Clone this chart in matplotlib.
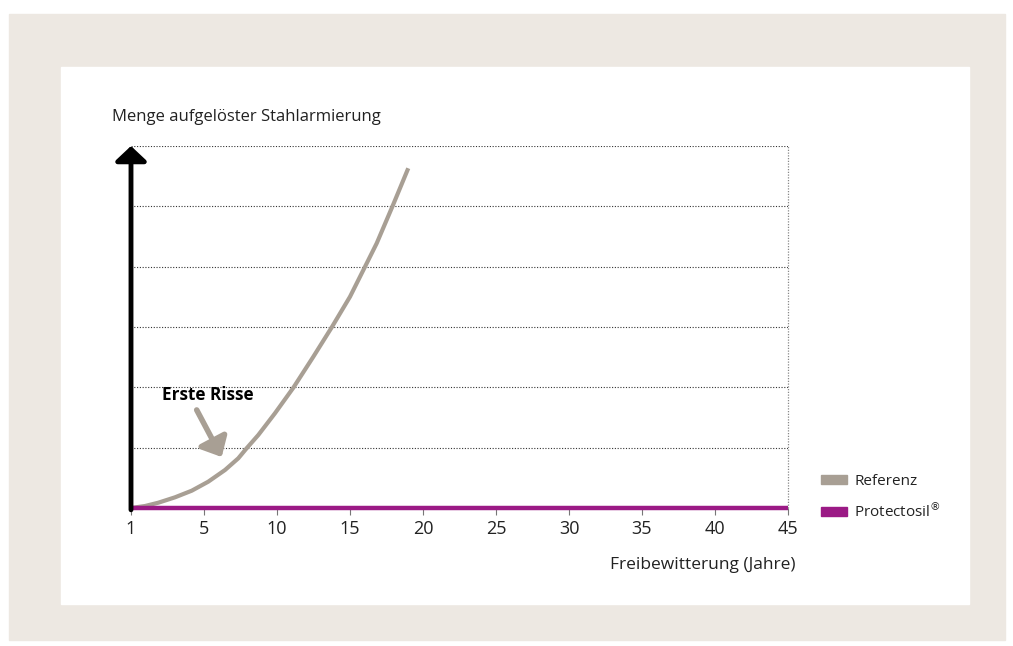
import numpy as np
import matplotlib.pyplot as plt
from matplotlib.patches import Rectangle, Patch

# x axis categories (equally spaced on the chart)
tick_years = [1, 5, 10, 15, 20, 25, 30, 35, 40, 45]

# Referenz curve (years, amount in grid units)
ref_years = [1, 1.77, 2.5, 3.41, 4.33, 5.29, 6.44, 7.35, 7.92, 8.72, 9.86,
             11.12, 12.49, 13.75, 15.0, 16.03, 16.83, 17.92, 18.99]
ref_values = [0, 0.033, 0.088, 0.177, 0.287, 0.436, 0.63, 0.824, 0.99, 1.21, 1.57,
              1.994, 2.508, 2.995, 3.502, 4.0, 4.388, 5.006, 5.631]

# Protectosil stays at zero for the whole period
prot_years = [1, 45]
prot_values = [0, 0]

legend_labels = ["Referenz", "Protectosil$^{\u00ae}$"]
ref_color = "#a89f94"
prot_color = "#9b1a85"
text_color = "#222222"


def main():
    plt.rcParams["font.family"] = ["Open Sans", "DejaVu Sans"]

    fig = plt.figure(figsize=(10.13, 6.46), dpi=100)
    W, H = 1013, 646

    # beige frame and white panel
    fig.patches.append(Rectangle((9 / W, 1 - 640 / H), 996 / W, 626 / H,
                                 transform=fig.transFigure, color="#ede8e2", zorder=-3))
    fig.patches.append(Rectangle((61 / W, 1 - 604 / H), 908 / W, 537 / H,
                                 transform=fig.transFigure, color="white", zorder=-2))

    ax = fig.add_axes([131 / W, 1 - 508 / H, 657 / W, 362 / H])
    ax.set_facecolor("none")

    pos = np.arange(len(tick_years))
    ref_x = np.interp(ref_years, tick_years, pos)
    prot_x = np.interp(prot_years, tick_years, pos)

    # dotted grid
    for yv in range(1, 7):
        ax.plot([0, 9], [yv, yv], color="#333333", lw=0.8, ls=(0, (1, 1.5)), zorder=1)
    ax.plot([9, 9], [0, 6], color="#888888", lw=0.9, ls=(0, (1, 1.2)), zorder=1,
            clip_on=False)

    ax.plot(ref_x, ref_values, color=ref_color, lw=3, solid_capstyle="butt",
            solid_joinstyle="round", zorder=3)
    ax.plot(prot_x, prot_values, color=prot_color, lw=3.2, solid_capstyle="butt",
            clip_on=False, zorder=4)

    # y axis arrow
    ax.annotate("", xy=(0, 6), xytext=(0, -0.03),
                arrowprops=dict(arrowstyle="-|>,head_length=0.3,head_width=0.32",
                                mutation_scale=30, lw=3.5, color="black",
                                shrinkA=0, shrinkB=0),
                annotation_clip=False, zorder=5)

    # annotation "Erste Risse"
    ax.text(0.42, 1.88, "Erste Risse", fontsize=12.3, fontweight="bold",
            color="black", va="center", ha="left")
    ax.annotate("", xy=(1.242, 0.845), xytext=(0.9, 1.625),
                arrowprops=dict(arrowstyle="-|>,head_length=0.42,head_width=0.38",
                                mutation_scale=25, lw=4, color=ref_color,
                                shrinkA=0, shrinkB=0))

    ax.set_xlim(0, 9)
    ax.set_ylim(0, 6)
    ax.set_xticks(pos)
    ax.set_xticklabels([str(t) for t in tick_years])
    ax.set_yticks([])
    ax.tick_params(axis="x", length=5, width=0.8, color="#777777", pad=4,
                   labelsize=13, labelcolor=text_color)
    for s in ax.spines.values():
        s.set_visible(False)

    fig.text(112 / W, 1 - 117 / H, "Menge aufgel\u00f6ster Stahlarmierung",
             fontsize=12, color=text_color, va="center", ha="left")
    fig.text(795 / W, 1 - 565 / H, "Freibewitterung (Jahre)",
             fontsize=12.5, color=text_color, va="center", ha="right")

    handles = [Patch(color=ref_color), Patch(color=prot_color)]
    fig.legend(handles, legend_labels, loc="upper left",
               bbox_to_anchor=(807 / W, 1 - 460 / H), frameon=False,
               fontsize=11, handlelength=1.75, handleheight=0.55,
               handletextpad=0.45, labelspacing=0.85, labelcolor=text_color)

    fig.savefig("out.png", dpi=100)


if __name__ == "__main__":
    main()
